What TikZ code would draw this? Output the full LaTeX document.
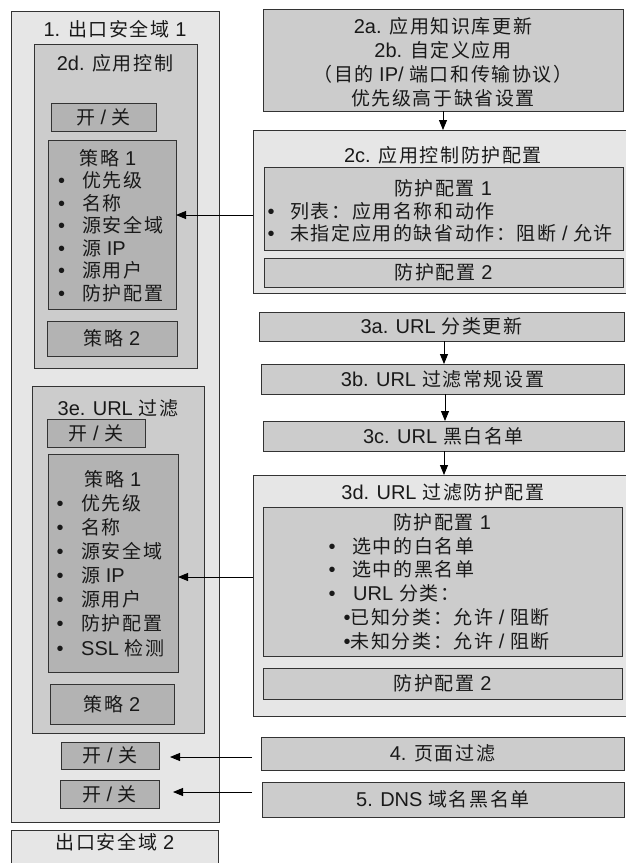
\documentclass[tikz,border=0pt]{standalone}
\usepackage{fontspec}
\setmainfont{Noto Sans CJK SC}[Scale=0.95,LetterSpace=8.5]
\newfontfamily\latf{Liberation Sans}
\newcommand\lt[1]{{\latf #1}}
\newcommand\bulx[1]{\makebox[#1][l]{\lt{•}}}
\usetikzlibrary{arrows.meta}
\definecolor{lightc}{HTML}{E6E6E6}
\definecolor{midc}{HTML}{CCCCCC}
\definecolor{darkc}{HTML}{B3B3B3}
\definecolor{bordc}{HTML}{333333}
\newcommand\mkbox[6]{\node[#2, minimum width={#5pt-#3pt}, minimum height={#6pt-#4pt}] (#1) at ({(#3+#5)/2},{(#4+#6)/2}) {};}
\begin{document}
\begin{tikzpicture}[x=1pt,y=-1pt,
  bx/.style={draw=bordc, line width=0.9pt, inner sep=0pt, outer sep=0pt},
  lbox/.style={bx, fill=lightc},
  mbox/.style={bx, fill=midc},
  dbox/.style={bx, fill=darkc},
  txt/.style={inner sep=0pt, font=\fontsize{20}{24}\selectfont, text=black!90},
  ltxt/.style={txt, anchor=west},
  arr/.style={draw=black, line width=0.9pt, -{Triangle[length=10pt,width=8pt]}}]
\useasboundingbox (0,0) rectangle (625,863);
% left column
\mkbox{dom1}{lbox}{11}{11}{219}{822}
\node[txt] (t-dom1) at (115,29) {\lt{1.} 出口安全域 \lt{1}};
\mkbox{ac}{mbox}{34}{44}{197}{368}
\node[txt] (t-ac) at (115,63) {\lt{2d.} 应用控制};
\mkbox{acsw}{dbox}{51}{103}{156}{131}
\node[txt] (t-acsw) at (acsw) {开\lt{ / }关};
\mkbox{acp1}{dbox}{48}{140}{176}{309}
\node[txt] (t-acp1) at (108,158) {策略 \lt{1}};
\foreach \t [count=\i] in {优先级,名称,源安全域,源\lt{ IP},源用户,防护配置}
  \node[ltxt] (acp1-\i) at (58,{158+22.5*\i}) {\bulx{24pt}\t};
\mkbox{acp2}{dbox}{47}{321}{177}{356}
\node[txt] (t-acp2) at (acp2) {策略 \lt{2}};
\mkbox{uf}{mbox}{32}{386}{204}{733}
\node[txt] (t-uf) at (118,408) {\lt{3e. URL} 过滤};
\mkbox{ufsw}{dbox}{47}{419}{145}{447}
\node[txt] (t-ufsw) at (ufsw) {开\lt{ / }关};
\mkbox{ufp1}{dbox}{48}{454}{178}{672}
\node[txt] (t-ufp1) at (113,479) {策略 \lt{1}};
\foreach \t [count=\i] in {优先级,名称,源安全域,源\lt{ IP},源用户,防护配置,\lt{SSL} 检测}
  \node[ltxt] (ufp1-\i) at (56.5,{479+24.1*\i}) {\bulx{24.5pt}\t};
\mkbox{ufp2}{dbox}{50}{684}{174}{724}
\node[txt] (t-ufp2) at (ufp2) {策略 \lt{2}};
\mkbox{pfsw}{dbox}{61}{742}{159}{769}
\node[txt] (t-pfsw) at (pfsw) {开\lt{ / }关};
\mkbox{dnssw}{dbox}{60}{780}{159}{808}
\node[txt] (t-dnssw) at (dnssw) {开\lt{ / }关};
\mkbox{dom2}{lbox}{11}{830}{218}{880}
\node[txt] (t-dom2) at (115,842) {出口安全域 \lt{2}};
% right column
\mkbox{ka}{mbox}{263}{9}{623}{111}
\node[txt, align=center] (t-ka) at (443,62) {\lt{2a.} 应用知识库更新\\\lt{2b.} 自定义应用\\（目的\lt{ IP/ }端口和传输协议）\\优先级高于缺省设置};
\mkbox{acpc}{lbox}{253}{130}{630}{293}
\node[txt] (t-acpc) at (443,155) {\lt{2c.} 应用控制防护配置};
\mkbox{acpc1}{mbox}{264}{167}{623}{250}
\node[txt] (t-acpc1) at (443,188) {防护配置 \lt{1}};
\node[ltxt] (acpc1-1) at (267.5,211) {\bulx{22.5pt}列表：应用名称和动作};
\node[ltxt] (acpc1-2) at (267.5,233) {\bulx{22.5pt}未指定应用的缺省动作：阻断\lt{ / }允许};
\mkbox{acpc2}{mbox}{264}{258}{623}{287}
\node[txt] (t-acpc2) at (acpc2) {防护配置 \lt{2}};
\mkbox{u3a}{mbox}{259}{312}{624}{341}
\node[txt] (t-u3a) at (u3a) {\lt{3a. URL} 分类更新};
\mkbox{u3b}{mbox}{261}{364}{624}{394}
\node[txt] (t-u3b) at (u3b) {\lt{3b. URL} 过滤常规设置};
\mkbox{u3c}{mbox}{263}{421}{624}{451}
\node[txt] (t-u3c) at (u3c) {\lt{3c. URL} 黑白名单};
\mkbox{u3d}{lbox}{253}{475}{630}{716}
\node[txt] (t-u3d) at (443,492) {\lt{3d. URL} 过滤防护配置};
\mkbox{ufpc1}{mbox}{263}{507}{622}{656}
\node[txt] (t-ufpc1) at (442,522) {防护配置 \lt{1}};
\node[ltxt] (ufpc1-1) at (328.5,546) {\bulx{23.5pt}选中的白名单};
\node[ltxt] (ufpc1-2) at (328.5,569) {\bulx{23.5pt}选中的黑名单};
\node[ltxt] (ufpc1-3) at (328.5,593) {\bulx{24.5pt}\lt{URL} 分类：};
\node[ltxt] (ufpc1-4) at (343.5,617) {\bulx{7pt}已知分类：允许\lt{ / }阻断};
\node[ltxt] (ufpc1-5) at (343.5,641) {\bulx{7pt}未知分类：允许\lt{ / }阻断};
\mkbox{ufpc2}{mbox}{263}{668}{622}{699}
\node[txt] (t-ufpc2) at (ufpc2) {防护配置 \lt{2}};
\mkbox{pf}{mbox}{261}{737}{624}{770}
\node[txt] (t-pf) at (pf) {\lt{4.} 页面过滤};
\mkbox{dns}{mbox}{262}{782}{624}{817}
\node[txt] (t-dns) at (dns) {\lt{5. DNS} 域名黑名单};
% connectors
\draw[arr] (ka.south) -- (ka.south |- acpc.north);
\draw[arr] ([xshift=2.5pt]u3a.south) -- ([xshift=2.5pt]u3a.south |- u3b.north);
\draw[arr] ([xshift=2.5pt]u3b.south) -- ([xshift=2.5pt]u3b.south |- u3c.north);
\draw[arr] ([xshift=0.5pt]u3c.south) -- ([xshift=0.5pt]u3c.south |- u3d.north);
\coordinate (a1) at ([yshift=9.5pt]acp1.east);
\draw[arr] (acpc.west |- a1) -- (a1);
\coordinate (a2) at ([yshift=-14pt]ufp1.east);
\draw[arr] (u3d.west |- a2) -- (a2);
\coordinate (a3) at ([xshift=11pt,yshift=-1.5pt]pfsw.east);
\draw[arr] ([xshift=-9pt]pf.west |- a3) -- (a3);
\coordinate (a4) at ([xshift=14pt,yshift=2pt]dnssw.east);
\draw[arr] ([xshift=-10pt]dns.west |- a4) -- (a4);
\end{tikzpicture}
\end{document}
